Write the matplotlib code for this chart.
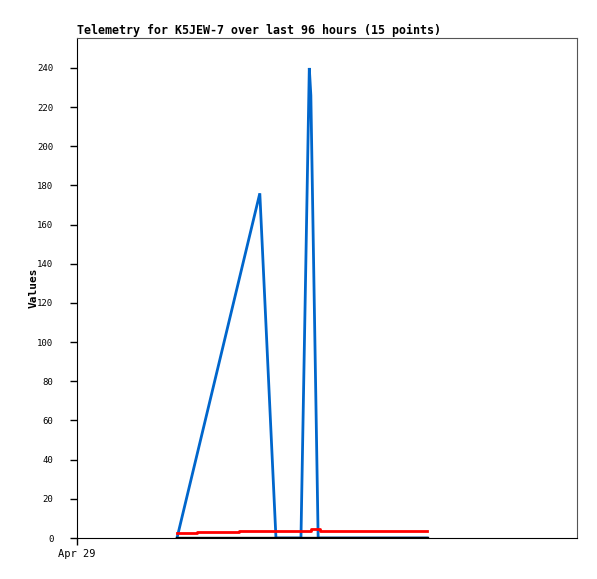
import matplotlib
matplotlib.use("Agg")
import matplotlib.pyplot as plt

# hours since Apr 29 00:00
blue_t = [19.2, 35.1, 38.2, 43.0, 44.6, 44.9, 46.3, 67.2]
blue_v = [0, 176, 0, 0, 240, 226, 0, 0]

red_t = [19.2, 23.0, 31.1, 44.4, 45.0, 45.6, 46.6, 67.2]
red_v = [2.7, 3.2, 3.7, 3.7, 4.5, 4.7, 3.7, 3.7]

black_t = [19.2, 67.2]
black_v = [0, 0]

x_ticks = [0]
x_labels = ["Apr 29"]
y_ticks = list(range(0, 241, 20))

mono = "DejaVu Sans Mono"

fig = plt.figure(figsize=(5.97, 5.79), dpi=100)
ax = fig.add_axes([77/597, 41/579, 500/597, 500/579])

ax.plot(blue_t, blue_v, color="#0066cc", lw=2, solid_joinstyle="miter")
ax.plot(red_t, red_v, color="#ff0000", lw=2, drawstyle="steps-post")
ax.plot(black_t, black_v, color="black", lw=2.4)

ax.set_xlim(0, 96)
ax.set_ylim(0, 255.3)
ax.set_xticks(x_ticks)
ax.set_xticklabels(x_labels, fontfamily=mono, fontsize=7.5)
ax.set_yticks(y_ticks)
ax.set_yticklabels([str(v) for v in y_ticks], fontfamily=mono, fontsize=6.5)
ax.tick_params(axis="y", direction="out", length=5, width=1, pad=12)
ax.tick_params(axis="x", direction="out", length=5, width=1, pad=3)

for s in ["left", "bottom"]:
    ax.spines[s].set_color("black")
for s in ["top", "right"]:
    ax.spines[s].set_color("#555555")

ax.set_ylabel("Values", fontfamily=mono, fontsize=8, fontweight="bold", labelpad=-1)
ax.set_title("Telemetry for K5JEW-7 over last 96 hours (15 points)",
             fontfamily=mono, fontsize=8.4, fontweight="bold", loc="left", pad=3)

fig.savefig("out.png", dpi=100)
